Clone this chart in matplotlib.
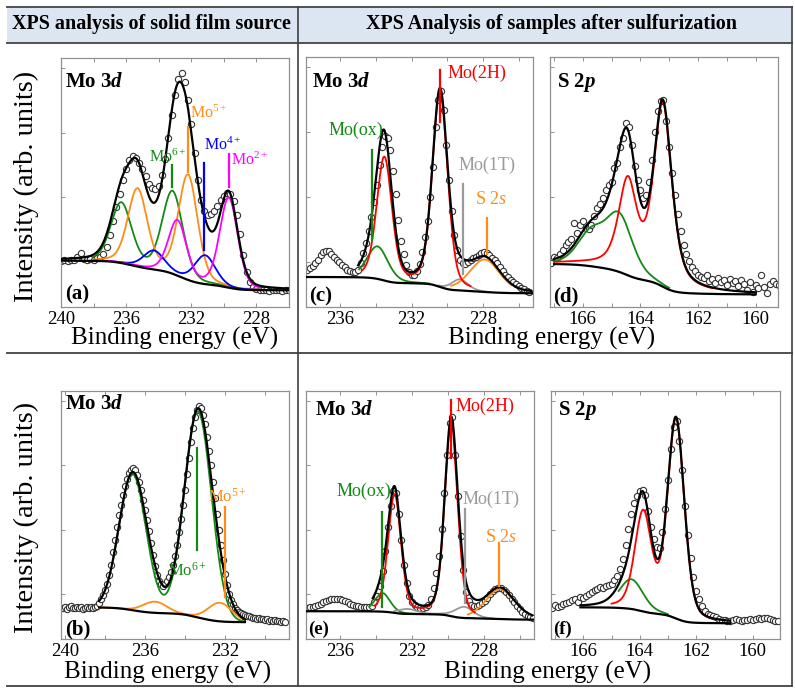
import numpy as np
import matplotlib
matplotlib.use('Agg')
import matplotlib.pyplot as plt
from matplotlib.lines import Line2D
from matplotlib.patches import Rectangle

plt.rcParams['font.family'] = 'Liberation Serif'
plt.rcParams['mathtext.fontset'] = 'custom'
plt.rcParams['mathtext.rm'] = 'Liberation Serif'
plt.rcParams['mathtext.it'] = 'Liberation Serif:italic'
plt.rcParams['mathtext.bf'] = 'Liberation Serif:bold'
plt.rcParams['mathtext.bfit'] = 'Liberation Serif:bold:italic'

GREEN = '#138a13'
ORANGE = '#ff8c1a'
BLUE = '#0000ff'
MAGENTA = '#ff00ff'
RED = '#ff0000'
GRAY = '#9a9a9a'

# ---- measured spectra (normalised intensity), first binding energy + step in eV ----
a_start, a_step = 240.0, 0.2
a_int = [0.186, 0.188, 0.185, 0.190, 0.188, 0.200, 0.215, 0.192, 0.190, 0.193,
         0.190, 0.195, 0.200, 0.212, 0.240, 0.290, 0.345, 0.400, 0.455, 0.510,
         0.555, 0.590, 0.605, 0.600, 0.580, 0.555, 0.525, 0.495, 0.478, 0.472,
         0.485, 0.530, 0.595, 0.680, 0.770, 0.850, 0.915, 0.940, 0.905, 0.830,
         0.735, 0.620, 0.510, 0.430, 0.385, 0.370, 0.372, 0.385, 0.405, 0.428,
         0.445, 0.458, 0.452, 0.425, 0.370, 0.295, 0.210, 0.140, 0.100, 0.082,
         0.074, 0.070, 0.068, 0.070, 0.066, 0.068, 0.067, 0.069, 0.066, 0.068,
         0.067]

b_start, b_step = 240.1, 0.1
b_int = [.125, .130, .122, .128, .132, .124, .127, .131, .125, .128,
         .122, .127, .130, .125, .128, .126, .130, .135, .145, .160,
         .178, .198, .223, .258, .300, .350, .400, .450, .498, .540,
         .580, .615, .645, .668, .682, .690, .682, .662, .635, .600,
         .560, .520, .480, .435, .388, .340, .295, .258, .235, .222,
         .215, .220, .232, .248, .270, .298, .335, .380, .430, .485,
         .540, .600, .665, .730, .795, .850, .895, .925, .940, .930,
         .905, .865, .815, .760, .700, .635, .570, .505, .440, .380,
         .318, .262, .218, .182, .158, .140, .126, .117, .110, .104,
         .100, .097, .094, .092, .088, .086, .085, .082, .083, .079,
         .080, .077, .079, .074, .077, .073, .076, .071, .074, .070,
         .072, .068]

c_start, c_step = 238.0, 0.15
c_int = [.150, .150, .157, .163, .175, .190, .208, .220, .226, .224,
         .212, .200, .190, .180, .170, .160, .150, .145, .142, .140,
         .150, .178, .215, .255, .305, .360, .420, .490, .570, .640,
         .685, .678, .630, .545, .453, .350, .265, .213, .170, .142,
         .130, .128, .145, .172, .220, .280, .345, .440, .560, .720,
         .830, .865, .790, .650, .510, .385, .290, .228, .190, .178,
         .173, .180, .188, .196, .202, .208, .215, .220, .218, .208,
         .198, .188, .175, .160, .145, .130, .120, .110, .100, .092,
         .083, .077, .071, .066, .060]

d_start, d_step = 167.1, 0.1
d_int = [.176, .200, .196, .214, .230, .248, .262, .272, .335, .296,
         .330, .345, .318, .312, .328, .365, .395, .414, .438, .470,
         .488, .500, .558, .575, .640, .675, .735, .720, .650, .565,
         .508, .468, .436, .448, .500, .590, .700, .785, .826, .830,
         .745, .640, .535, .448, .372, .305, .250, .214, .185, .160,
         .145, .130, .122, .118, .128, .104, .112, .095, .118, .100,
         .108, .090, .112, .098, .104, .086, .107, .094, .070, .100,
         .062, .088, .076, .128, .082, .058, .094, .105, .092, .088]

e_start, e_step = 238.0, 0.15
e_int = [.125, .126, .128, .130, .132, .136, .142, .148, .152, .157,
         .160, .162, .161, .160, .156, .152, .148, .143, .139, .135,
         .132, .130, .129, .129, .130, .135, .148, .175, .215, .275,
         .355, .450, .535, .595, .590, .505, .400, .300, .225, .175,
         .150, .138, .130, .126, .125, .128, .138, .160, .205, .265,
         .335, .445, .590, .740, .870, .895, .740, .575, .415, .280,
         .190, .152, .138, .134, .135, .139, .146, .155, .167, .180,
         .192, .200, .205, .204, .199, .190, .178, .163, .148, .134,
         .122, .110, .099, .092, .087, .084]

f_start, f_step = 167.1, 0.1
f_int = [.125, .138, .128, .132, .140, .145, .150, .156, .160, .150,
         .168, .165, .175, .182, .190, .198, .203, .210, .206, .212,
         .216, .222, .236, .255, .282, .322, .380, .445, .505, .550,
         .578, .597, .602, .580, .515, .453, .402, .372, .368, .430,
         .525, .640, .765, .855, .880, .800, .680, .535, .420, .325,
         .250, .195, .160, .135, .112, .102, .097, .092, .088, .082,
         .078, .075, .072, .074, .078, .079, .076, .073, .077, .075,
         .080, .078, .081, .083, .079, .086, .084, .080, .076, .071,
         .073]

# ---- fitted components: (centre eV, height, FWHM eV) ----
a_mo6 = [(236.3, 0.24, 1.5), (233.15, 0.33, 1.5)]
a_mo5 = [(235.3, 0.31, 1.4), (232.2, 0.42, 1.4)]
a_mo4 = [(234.3, 0.075, 1.5), (231.15, 0.115, 1.5)]
a_mo2 = [(232.85, 0.22, 1.3), (229.7, 0.36, 1.3)]

b_mo6 = [(236.62, 0.55, 1.6), (233.35, 0.83, 1.6)]
b_mo5 = [(235.5, 0.045, 1.4), (232.25, 0.075, 1.4)]

c_2h = [(233.53, 0.49, 1.0), (230.41, 0.78, 1.0)]
c_ox = [(233.91, 0.13, 1.4)]
c_1t = [(229.3, 0.045, 1.1)]
c_s2s = [(227.9, 0.13, 2.0)]

d_red = [(163.22, 0.72, 0.75), (164.44, 0.36, 0.75)]
d_green = [(164.73, 0.22, 1.1), (165.72, 0.125, 1.1)]

e_2h = [(232.98, 0.475, 0.85), (229.82, 0.78, 0.85)]
e_ox = [(233.65, 0.075, 1.0)]
e_1t = [(232.25, 0.02, 1.2), (229.1, 0.045, 1.2)]
e_s2s = [(227.1, 0.12, 1.9)]

f_red = [(162.72, 0.80, 0.7), (163.88, 0.39, 0.7)]
f_green = [(164.3, 0.12, 1.0)]

W, H = 795, 689
fig = plt.figure(figsize=(W / 100, H / 100), dpi=100)


def frect(x0, y0, x1, y1):
    return [x0 / W, 1 - y1 / H, (x1 - x0) / W, (y1 - y0) / H]


def pvoigt(x, c, h, w, eta):
    d = 2 * (x - c) / w
    return h * (eta / (1 + d ** 2) + (1 - eta) * np.exp(-np.log(2) * d ** 2))


def draw_panel(rect, xlim, start, step, counts, comps, bg_hi, bg_lo, bg_rng, env_rng, major, minor):
    ax = fig.add_axes(rect)
    be = start - step * np.arange(len(counts))
    x = np.linspace(xlim[1], xlim[0], 2000)
    total = np.zeros_like(x)
    parts = []
    for color, peaks, eta, rng in comps:
        y = sum(pvoigt(x, c, h, w, eta) for c, h, w in peaks)
        total += y
        parts.append((color, y, rng))
    # Shirley type background
    area = np.cumsum(total)
    bg = bg_lo + (bg_hi - bg_lo) * area / area[-1]

    ax.plot(be, counts, 'o', ms=4.5, mfc='white', mec='#333333', mew=0.8, zorder=2)
    for color, y, rng in parts:
        m = (x <= rng[0]) & (x >= rng[1])
        ax.plot(x[m], bg[m] + y[m], color=color, lw=1.3, zorder=3)
    m = (x <= bg_rng[0]) & (x >= bg_rng[1])
    ax.plot(x[m], bg[m], color='black', lw=1.6, zorder=4)
    m = (x <= env_rng[0]) & (x >= env_rng[1])
    ax.plot(x[m], bg[m] + total[m], color='black', lw=1.6, zorder=4)

    ax.set_xlim(xlim)
    ax.set_ylim(0, 1)
    ax.set_xticks(major)
    ax.set_xticks(minor, minor=True)
    ax.set_yticks([0.18, 0.44, 0.70, 0.96])
    ax.set_yticklabels([])
    ax.tick_params(which='both', direction='in', top=True, length=3, width=0.6,
                   color='#808080', labelsize=13.5, pad=3)
    for s in ax.spines.values():
        s.set_color('#909090')
        s.set_linewidth(0.9)
    return ax


def vline(ax, x, y0, y1, color):
    ax.plot([x, x], [y0, y1], color=color, lw=1.6, zorder=5)


def label(ax, x, y, s, color, size=13):
    ax.text(x, y, s, color=color, fontsize=size, va='baseline', zorder=6)


# ---- (a) ----
ax = draw_panel(frect(61, 58, 289, 307), (240, 226), a_start, a_step, a_int,
                [(GREEN, a_mo6, 0.25, (238.0, 227.8)), (ORANGE, a_mo5, 0.25, (238.0, 227.8)),
                 (BLUE, a_mo4, 0.25, (238.0, 227.8)), (MAGENTA, a_mo2, 0.25, (238.0, 227.8))],
                0.186, 0.067, (240, 226), (240, 226), [240, 236, 232, 228], [238, 234, 230, 226])
vline(ax, 233.2, 0.483, 0.570, GREEN)
vline(ax, 232.2, 0.544, 0.722, ORANGE)
vline(ax, 231.2, 0.228, 0.580, BLUE)
vline(ax, 229.7, 0.483, 0.615, MAGENTA)
label(ax, 234.6, 0.584, r'Mo$^{6+}$', GREEN, 11.5)
label(ax, 232.1, 0.758, r'Mo$^{5+}$', ORANGE, 11.5)
label(ax, 231.25, 0.631, r'Mo$^{4+}$', BLUE, 11.5)
label(ax, 229.55, 0.570, r'Mo$^{2+}$', MAGENTA, 11.5)
ax.text(0.018, 0.884, r'$\mathbf{Mo\ 3}\mathbfit{d}$', transform=ax.transAxes, fontsize=15, va='baseline')
ax.text(0.018, 0.032, '(a)', transform=ax.transAxes, fontsize=15, weight='bold', va='baseline')

# ---- (c) ----
ax = draw_panel(frect(306, 57, 533, 307), (237.92, 225.2), c_start, c_step, c_int,
                [(GREEN, c_ox, 0.3, (234.95, 231.0)), (GRAY, c_1t, 0.3, (230.5, 227.6)),
                 (ORANGE, c_s2s, 0.3, (229.8, 226.4)), (RED, c_2h, 0.3, (234.8, 228.7))],
                0.12, 0.055, (237.92, 225.2), (235.0, 225.3), [236, 232, 228], [234, 230, 226])
vline(ax, 230.41, 0.74, 0.947, RED)
vline(ax, 234.22, 0.267, 0.627, GREEN)
vline(ax, 229.1, 0.133, 0.493, GRAY)
vline(ax, 227.75, 0.213, 0.356, ORANGE)
label(ax, 230.0, 0.917, 'Mo(2H)', RED)
label(ax, 236.64, 0.69, 'Mo(ox)', GREEN)
label(ax, 229.39, 0.547, 'Mo(1T)', GRAY)
label(ax, 228.46, 0.413, r'S 2$\mathit{s}$', ORANGE)
ax.text(0.026, 0.88, r'$\mathbf{Mo\ 3}\mathbfit{d}$', transform=ax.transAxes, fontsize=15, va='baseline')
ax.text(0.014, 0.021, '(c)', transform=ax.transAxes, fontsize=15, weight='bold', va='baseline')

# ---- (d) ----
ax = draw_panel(frect(550, 57, 778, 307), (167.14, 159.22), d_start, d_step, d_int,
                [(GREEN, d_green, 0.3, (167.0, 163.0)), (RED, d_red, 0.6, (167.0, 161.5))],
                0.172, 0.05, (167.0, 160.0), (167.0, 160.0), [166, 164, 162, 160], [167, 165, 163, 161])
ax.text(0.03, 0.88, r'$\mathbf{S\ 2}\mathbfit{p}$', transform=ax.transAxes, fontsize=15, va='baseline')
ax.text(0.012, 0.021, '(d)', transform=ax.transAxes, fontsize=15, weight='bold', va='baseline')

# ---- (b) ----
ax = draw_panel(frect(61, 391, 289, 639), (240.2, 228.8), b_start, b_step, b_int,
                [(GREEN, b_mo6, 0.0, (237.6, 231.0)), (ORANGE, b_mo5, 0.0, (238.3, 231.0))],
                0.127, 0.068, (238.3, 231.0), (238.3, 231.0), [240, 236, 232], [238, 234, 230])
vline(ax, 233.38, 0.358, 0.77, GREEN)
vline(ax, 232.0, 0.169, 0.534, ORANGE)
label(ax, 234.85, 0.257, r'Mo$^{6+}$', GREEN, 12)
label(ax, 232.85, 0.554, r'Mo$^{5+}$', ORANGE, 12)
ax.text(0.018, 0.927, r'$\mathbf{Mo\ 3}\mathbfit{d}$', transform=ax.transAxes, fontsize=15, va='baseline')
ax.text(0.018, 0.02, '(b)', transform=ax.transAxes, fontsize=15, weight='bold', va='baseline')

# ---- (e) ----
ax = draw_panel(frect(306, 391, 534, 639), (237.92, 225.2), e_start, e_step, e_int,
                [(GREEN, e_ox, 0.3, (234.4, 231.8)), (GRAY, e_1t, 0.3, (233.0, 227.5)),
                 (ORANGE, e_s2s, 0.3, (228.9, 226.5)), (RED, e_2h, 0.3, (234.1, 228.5))],
                0.112, 0.078, (237.92, 225.2), (234.2, 225.3), [236, 232, 228], [234, 230, 226])
vline(ax, 229.82, 0.728, 0.962, RED)
vline(ax, 233.67, 0.131, 0.513, GREEN)
vline(ax, 229.06, 0.145, 0.523, GRAY)
vline(ax, 227.14, 0.212, 0.386, ORANGE)
label(ax, 229.58, 0.918, 'Mo(2H)', RED)
label(ax, 236.24, 0.578, 'Mo(ox)', GREEN)
label(ax, 229.21, 0.544, 'Mo(1T)', GRAY)
label(ax, 227.96, 0.393, r'S 2$\mathit{s}$', ORANGE)
ax.text(0.04, 0.903, r'$\mathbf{Mo\ 3}\mathbfit{d}$', transform=ax.transAxes, fontsize=15, va='baseline')
ax.text(0.01, 0.02, '(e)', transform=ax.transAxes, fontsize=13.5, weight='bold', va='baseline')

# ---- (f) ----
ax = draw_panel(frect(551, 391, 780, 639), (167.14, 159.04), f_start, f_step, f_int,
                [(GREEN, f_green, 0.3, (164.75, 163.0)), (RED, f_red, 0.3, (165.0, 161.4))],
                0.128, 0.063, (166.1, 160.8), (166.1, 160.8), [166, 164, 162, 160], [167, 165, 163, 161])
ax.text(0.03, 0.903, r'$\mathbf{S\ 2}\mathbfit{p}$', transform=ax.transAxes, fontsize=15, va='baseline')
ax.text(0.01, 0.02, '(f)', transform=ax.transAxes, fontsize=13.5, weight='bold', va='baseline')

# ---- table frame, header and shared labels ----
fig.add_artist(Rectangle((7 / W, 1 - 43 / H), 785 / W, 36 / H, transform=fig.transFigure,
                         facecolor='#dce6f2', edgecolor='none', zorder=0))
for y in [7, 43, 353, 686]:
    fig.add_artist(Line2D([7 / W, 792 / W], [1 - y / H, 1 - y / H], color='#505050', lw=1.4))
for x in [298, 792]:
    fig.add_artist(Line2D([x / W, x / W], [1 - 7 / H, 1 - 686 / H], color='#404040', lw=1.2))

fig.text(151 / W, 1 - 24 / H, 'XPS analysis of solid film source', ha='center', va='center',
         fontsize=14.5, weight='bold')
fig.text(551 / W, 1 - 24 / H, 'XPS Analysis of samples after sulfurization', ha='center', va='center',
         fontsize=14.5, weight='bold')

for yc in [186, 517]:
    fig.text(26 / W, 1 - yc / H, 'Intensity (arb. units)', rotation=90, ha='center', va='center', fontsize=20.5)
for xc, yc in [(175, 338), (552, 338), (168, 672), (548, 672)]:
    fig.text(xc / W, 1 - yc / H, 'Binding energy (eV)', ha='center', va='center', fontsize=18)

fig.savefig('out.png', dpi=100)
